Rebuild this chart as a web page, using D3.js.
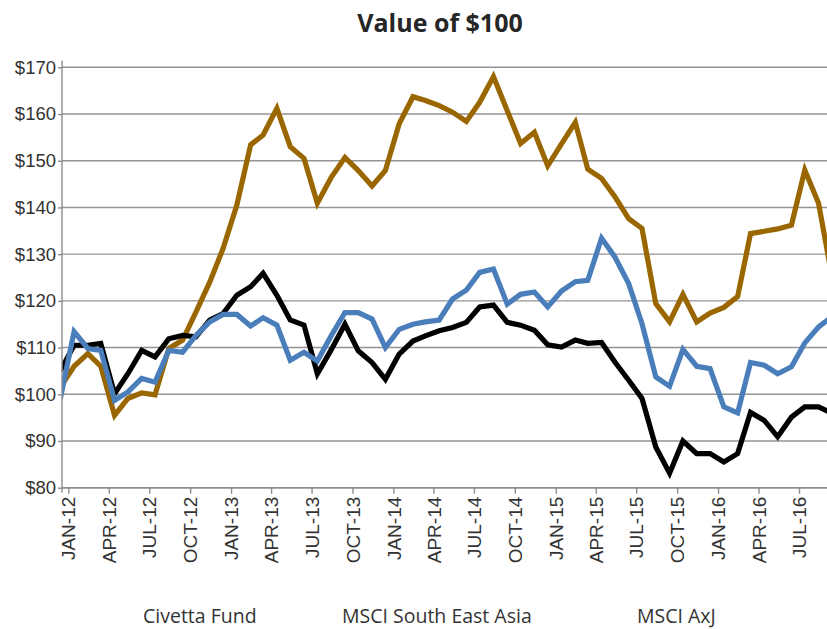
<!DOCTYPE html>
<html>
<head>
<meta charset="utf-8">
<script src="https://cdn.jsdelivr.net/npm/d3@7"></script>
<style>
  body { margin: 0; background: #fff; }
  svg { display: block; font-family: 'Open Sans', 'Noto Sans', sans-serif; }
</style>
</head>
<body>
<div id="chart"></div>
<script>
// monthly values, first point is Dec-11 (partly hidden behind the y axis)
const startMonth = new Date(2011, 11, 1);
const civettaFund = [101.5,
  106, 108.7, 106, 95.5, 99.1, 100.3, 99.9, 109.8, 111.6, 117.6, 124, 131.2,
  140.5, 153.4, 155.5, 161.2, 153, 150.5, 140.9, 146.4, 150.7, 147.9, 144.6, 147.9,
  157.9, 163.7, 162.9, 161.8, 160.4, 158.4, 162.5, 168, 160.7, 153.7, 156.1, 148.9,
  153.6, 158.2, 148.2, 146.2, 142.3, 137.6, 135.5, 119.4, 115.5, 121.4, 115.5, 117.4,
  118.6, 120.9, 134.4, 134.9, 135.4, 136.2, 148, 140.9, 124.7];
const msciSea = [105,
  110.5, 110.5, 110.9, 100.1, 104.4, 109.4, 108, 111.9, 112.6, 112.3, 115.9, 117.3,
  121.2, 123, 125.9, 121.2, 115.9, 114.8, 104.4, 109.5, 115, 109.3, 106.8, 103.2,
  108.6, 111.4, 112.5, 113.6, 114.3, 115.4, 118.7, 119.1, 115.4, 114.8, 113.7, 110.6,
  110.1, 111.6, 110.9, 111.1, 106.9, 103, 99.1, 88.7, 83.1, 90, 87.3, 87.3,
  85.5, 87.3, 96.1, 94.4, 90.9, 95.1, 97.3, 97.3, 95.9];
const msciAxj = [99,
  113.4, 109.8, 109.4, 98.7, 100.5, 103.4, 102.6, 109.4, 109, 112.6, 115.5, 117.1,
  117.1, 114.6, 116.4, 114.8, 107.3, 109, 107.1, 112.5, 117.5, 117.5, 116.1, 110,
  113.9, 115, 115.5, 115.9, 120.4, 122.3, 126.1, 126.8, 119.3, 121.4, 121.9, 118.7,
  122.1, 124.1, 124.4, 133.4, 129.4, 123.7, 115.1, 103.7, 101.7, 109.6, 106, 105.5,
  97.3, 96, 106.8, 106.2, 104.4, 105.9, 111, 114.4, 116.7];

const seriesNames = ['Civetta Fund', 'MSCI South East Asia', 'MSCI AxJ'];
const seriesColors = ['#996600', '#000000', '#4a7ebb'];
const yTicks = [80, 90, 100, 110, 120, 130, 140, 150, 160, 170];

const width = 827, height = 629;
const plot = { left: 62, right: 827, top: 67.3, bottom: 487.7 };

const series = [civettaFund, msciSea, msciAxj].map((vals, k) => ({
  name: seriesNames[k],
  color: seriesColors[k],
  // values plotted at mid-month
  values: vals.map((v, i) => ({ date: d3.timeDay.offset(d3.timeMonth.offset(startMonth, i), 13), value: v }))
}));

const x = d3.scaleTime()
  .domain([new Date(2012, 0, 1), new Date(2016, 6, 1)])
  .range([68.3, 799]);
const y = d3.scaleLinear().domain([80, 170]).range([plot.bottom, plot.top]);

const svg = d3.select('#chart').append('svg')
  .attr('width', width).attr('height', height);

svg.append('text')
  .attr('x', 440).attr('y', 32)
  .attr('text-anchor', 'middle')
  .style('font-size', '25px').style('font-weight', 'bold').style('fill', '#262626')
  .text('Value of $100');

// gridlines
svg.append('g').selectAll('line').data(yTicks).enter().append('line')
  .attr('x1', plot.left).attr('x2', plot.right)
  .attr('y1', d => y(d)).attr('y2', d => y(d))
  .style('stroke', '#949494').style('stroke-width', 1.4);

svg.append('defs').append('clipPath').attr('id', 'clip')
  .append('rect').attr('x', plot.left).attr('y', 0)
  .attr('width', plot.right - plot.left).attr('height', height);

const line = d3.line().x(d => x(d.date)).y(d => y(d.value));

svg.append('g').attr('clip-path', 'url(#clip)')
  .selectAll('path').data(series).enter().append('path')
  .attr('d', d => line(d.values))
  .style('fill', 'none')
  .style('stroke', d => d.color)
  .style('stroke-width', 5.2)
  .style('stroke-linejoin', 'miter');

// y axis
const yAxis = svg.append('g').attr('transform', `translate(${plot.left},0)`)
  .call(d3.axisLeft(y).tickValues(yTicks).tickSize(4).tickSizeOuter(0).tickPadding(2).tickFormat(d => '$' + d));
yAxis.select('.domain').attr('d', `M0,${y(171.4)}V${plot.bottom + 5}`);
yAxis.selectAll('.domain, .tick line').style('stroke', '#8c8c8c').style('stroke-width', 1.4);
yAxis.selectAll('text').style('font-size', '18.5px').style('fill', '#333');

// x axis
const xAxis = svg.append('g').attr('transform', `translate(0,${plot.bottom})`)
  .call(d3.axisBottom(x)
    .tickValues(d3.timeMonth.every(3).range(new Date(2012, 0, 1), new Date(2016, 7, 1)))
    .tickSize(6).tickSizeOuter(0)
    .tickFormat(d => d3.timeFormat('%b-%y')(d).toUpperCase()));
xAxis.select('.domain').attr('d', `M${plot.left},0H${plot.right}`);
xAxis.selectAll('.domain, .tick line').style('stroke', '#8c8c8c').style('stroke-width', 1.4);
xAxis.selectAll('text')
  .attr('transform', 'rotate(-90)')
  .attr('x', -9).attr('y', 0).attr('dy', '0.35em')
  .style('text-anchor', 'end')
  .style('font-size', '19px').style('fill', '#333');

// legend
const legendX = [143, 342, 637];
svg.append('g').selectAll('text').data(series).enter().append('text')
  .attr('x', (d, i) => legendX[i]).attr('y', 623)
  .style('font-size', '19.5px').style('fill', '#333')
  .text(d => d.name);
</script>
</body>
</html>
